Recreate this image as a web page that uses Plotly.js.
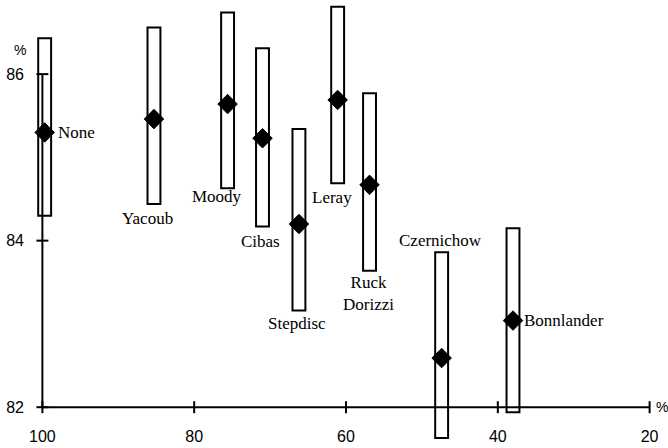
<!DOCTYPE html>
<html>
<head>
<meta charset="utf-8">
<script src="https://cdn.plot.ly/plotly-3.0.1.min.js"></script>
<style>html,body{margin:0;padding:0;background:#fff}#chart{width:668px;height:448px}</style>
</head>
<body>
<div id="chart"></div>
<script>
// ---- data ----
const methods = ['None','Yacoub','Moody','Cibas','Stepdisc','Leray','Ruck<br>Dorizzi','Czernichow','Bonnlander'];
const featPct  = [99.7, 85.3, 75.6, 71.0, 66.2, 61.1, 56.9, 47.4, 38.0];
const perf     = [85.30, 85.46, 85.64, 85.23, 84.20, 85.69, 84.67, 82.59, 83.04];
const perfLow  = [84.30, 84.44, 84.63, 84.17, 83.16, 84.69, 83.64, 81.63, 81.94];
const perfHigh = [86.43, 86.56, 86.74, 86.31, 85.34, 86.81, 85.77, 83.86, 84.15];
const xTicks = [100, 80, 60, 40, 20];
const yTicks = [82, 84, 86];

// ---- label placement (style) ----
const labelPlace = [
  {side:'right', dx:11, dy:0},
  {side:'below', dx:-6, dy:-3},
  {side:'below', dx:-11, dy:3},
  {side:'below', dx:-2, dy:-3},
  {side:'below', dx:-2, dy:-1},
  {side:'below', dx:-6, dy:-3},
  {side:'below', dx:-1, dy:0},
  {side:'above', dx:-1, dy:0},
  {side:'right', dx:9, dy:0}
];

const serif = 'Liberation Serif, Times New Roman, serif';
const sans = 'Liberation Sans, Arial, sans-serif';

const boxes = {
  type:'bar', x: featPct, base: perfLow,
  y: perfHigh.map((h,i)=>h-perfLow[i]),
  width: 1.7,
  marker:{color:'#fff', line:{color:'#000', width:2}},
  hoverinfo:'skip', showlegend:false
};
const points = {
  type:'scatter', mode:'markers', x: featPct, y: perf,
  marker:{symbol:'diamond', size:15, color:'#000', line:{color:'#000', width:1}},
  cliponaxis:false, hoverinfo:'skip', showlegend:false
};

const annotations = methods.map((m,i)=>{
  const p = labelPlace[i];
  const a = {text:m, x:featPct[i], xref:'x', yref:'y', showarrow:false,
    font:{family:serif, size:17, color:'#000'}, xshift:p.dx, yshift:p.dy};
  if(p.side==='right'){ a.y=perf[i]; a.xanchor='left'; a.yanchor='middle'; }
  else if(p.side==='below'){ a.y=perfLow[i]; a.xanchor='center'; a.yanchor='top'; }
  else { a.y=perfHigh[i]; a.xanchor='center'; a.yanchor='bottom'; }
  return a;
});
annotations.push({text:'%', xref:'paper', yref:'paper', x:-0.03, y:0.888, xanchor:'left', yanchor:'middle', showarrow:false, font:{family:sans, size:14, color:'#000'}});
annotations.push({text:'%', xref:'paper', yref:'y', x:1.0, y:yTicks[0], xanchor:'left', yanchor:'middle', showarrow:false, font:{family:sans, size:14, color:'#000'}, xshift:-7});

const shapes = [];
shapes.push({type:'line', xref:'x', yref:'y', x0:xTicks[0], x1:xTicks[xTicks.length-1], y0:yTicks[0], y1:yTicks[0], line:{color:'#000', width:2}, layer:'above'});
shapes.push({type:'line', xref:'x', yref:'y', x0:xTicks[0], x1:xTicks[0], y0:yTicks[0], y1:yTicks[yTicks.length-1], line:{color:'#000', width:2}, layer:'above'});
xTicks.forEach(t=>shapes.push({type:'line', xref:'x', yref:'y', ysizemode:'pixel', yanchor:yTicks[0], x0:t, x1:t, y0:-6, y1:6, line:{color:'#000', width:2}, layer:'above'}));
yTicks.forEach(t=>shapes.push({type:'line', xref:'x', yref:'y', xsizemode:'pixel', xanchor:xTicks[0], y0:t, y1:t, x0:-6, x1:6, line:{color:'#000', width:2}, layer:'above'}));

const layout = {
  width:668, height:448,
  margin:{l:31, r:7, t:0, b:0},
  paper_bgcolor:'#fff', plot_bgcolor:'rgba(0,0,0,0)',
  xaxis:{range:[101.5, 18.5], tickvals:xTicks, ticktext:xTicks.map(String), ticks:'', showline:false, showgrid:false, zeroline:false,
    anchor:'free', position:(82-81.51)/(86.89-81.51), side:'bottom', ticklabelstandoff:18,
    tickfont:{family:sans, size:16, color:'#000'}},
  yaxis:{range:[81.51, 86.89], tickvals:yTicks, ticktext:yTicks.map(String), ticks:'', showline:false, showgrid:false, zeroline:false,
    ticklabelstandoff:6, tickfont:{family:sans, size:16, color:'#000'}},
  shapes, annotations, showlegend:false
};

Plotly.newPlot('chart', [boxes, points], layout, {staticPlot:true, displayModeBar:false});
</script>
</body>
</html>
